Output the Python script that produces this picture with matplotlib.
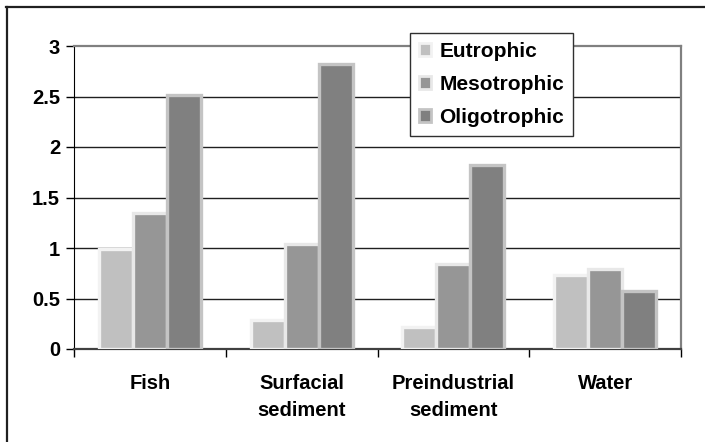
import matplotlib
matplotlib.use("Agg")
import matplotlib.pyplot as plt
import numpy as np
from matplotlib.patches import Patch
from matplotlib.lines import Line2D

# ------------------------------------------------------------
# Data
# ------------------------------------------------------------
categories = ["Fish", "Surfacial\nsediment", "Preindustrial\nsediment", "Water"]
series_names = ["Eutrophic", "Mesotrophic", "Oligotrophic"]
eutrophic = [0.99, 0.29, 0.22, 0.73]
mesotrophic = [1.35, 1.04, 0.84, 0.79]
oligotrophic = [2.51, 2.82, 1.82, 0.57]
y_ticks = [0, 0.5, 1, 1.5, 2, 2.5, 3]
y_tick_labels = ["0", "0.5", "1", "1.5", "2", "2.5", "3"]

fills = ["#c0c0c0", "#969696", "#808080"]
edges = ["#f2f2f2", "#e8e8e8", "#c4c4c4"]

plt.rcParams["font.family"] = ["Liberation Sans", "DejaVu Sans"]
plt.rcParams["font.weight"] = "bold"

fig = plt.figure(figsize=(7.05, 4.42), dpi=100)
ax = fig.add_axes([74 / 705, 1 - 349 / 442, (681 - 74) / 705, (349 - 46) / 442])

x = np.arange(len(categories))
w = 0.224
for k, vals in enumerate([eutrophic, mesotrophic, oligotrophic]):
    ax.bar(x + (k - 1) * w, vals, width=w, color=fills[k], edgecolor=edges[k],
           linewidth=2.4, zorder=3)

ax.set_xlim(-0.5, len(categories) - 0.5)
ax.set_ylim(0, 3)

ax.set_yticks(y_ticks)
ax.set_yticklabels(y_tick_labels, fontsize=14.5, fontweight="bold")
ax.tick_params(axis="y", direction="out", length=6, width=1, pad=4)

ax.set_xticks(np.arange(len(categories) + 1) - 0.5)
ax.set_xticklabels([])
ax.tick_params(axis="x", which="major", direction="out", length=6, width=1)
ax.set_xticks(x, minor=True)
ax.set_xticklabels(categories, minor=True, fontsize=14.5, fontweight="bold",
                   linespacing=1.55)
ax.tick_params(axis="x", which="minor", length=0, pad=18)

for yv in y_ticks[1:-1]:
    ax.axhline(yv, color="#202020", lw=1, zorder=1)

ax.spines["left"].set_color("black")
ax.spines["bottom"].set_color("#404040")
ax.spines["bottom"].set_linewidth(1.6)
ax.spines["top"].set_color("#808080")
ax.spines["top"].set_linewidth(1.6)
ax.spines["right"].set_color("#808080")
ax.spines["right"].set_linewidth(1.6)

handles = [Patch(facecolor=fills[k], edgecolor=edges[k], linewidth=2) for k in range(3)]
leg = fig.legend(handles, series_names, loc="upper left",
                 bbox_to_anchor=(410 / 705, 1 - 33 / 442), borderaxespad=0,
                 prop={"size": 15, "weight": "bold"}, fancybox=False,
                 handlelength=0.6, handleheight=0.6, handletextpad=0.4,
                 labelspacing=0.68, borderpad=0.42, framealpha=1)
leg.get_frame().set_edgecolor("#303030")
leg.get_frame().set_linewidth(1)

# outer chart frame (only left and top visible)
fig.add_artist(Line2D([6.5 / 705, 6.5 / 705], [0, 1 - 7 / 442], color="#202020", lw=1.6,
                      transform=fig.transFigure))
fig.add_artist(Line2D([6 / 705, 1], [1 - 7 / 442, 1 - 7 / 442], color="#202020", lw=1.6,
                      transform=fig.transFigure))

fig.savefig("out.png", dpi=100)
